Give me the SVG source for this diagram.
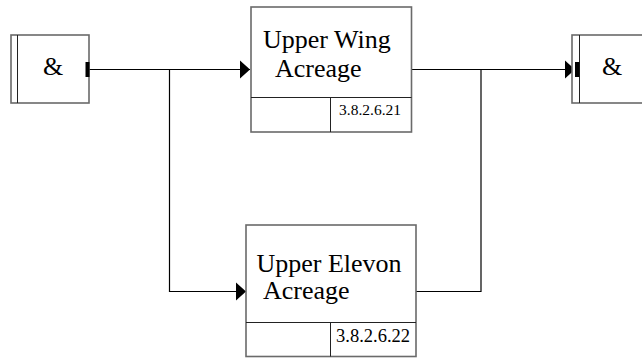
<svg xmlns="http://www.w3.org/2000/svg" width="642" height="360" viewBox="0 0 642 360">
<defs>
<style>
.box{fill:#fff;stroke:#6a6a6a;stroke-width:1.6}
.div{fill:none;stroke:#222;stroke-width:1}
.line{fill:none;stroke:#000;stroke-width:1.2}
.bar{fill:#000}
.t{font-family:"Liberation Serif","Times New Roman",serif;fill:#000}
.lbl{font-size:26px}
.amp{font-size:26px}
</style>
<marker id="arr" markerWidth="11" markerHeight="20" refX="10" refY="10" orient="auto" markerUnits="userSpaceOnUse">
<path d="M0,1 L10,10 L0,19 Z" fill="#000"/>
</marker>
</defs>
<g id="connectors">
<path class="line" d="M89,69.5 H250" marker-end="url(#arr)"/>
<path class="line" d="M169.5,69.5 V291.5 H246" marker-end="url(#arr)"/>
<path class="line" d="M411,69.5 H575" marker-end="url(#arr)"/>
<path class="line" d="M416,291.5 H481 V69.5"/>
</g>
<g id="junction-left">
<rect class="box" x="11" y="35" width="78" height="68"/>
<line class="div" x1="17.5" y1="35" x2="17.5" y2="103"/>
<rect class="bar" x="85.5" y="62" width="4" height="15"/>
<text class="t amp" x="53" y="75" text-anchor="middle">&amp;</text>
</g>
<g id="upper-wing">
<rect class="box" x="251" y="7" width="160.5" height="125"/>
<line class="div" x1="251" y1="97.5" x2="411.5" y2="97.5"/>
<line class="div" x1="330.5" y1="97.5" x2="330.5" y2="132"/>
<text class="t lbl" x="263" y="48">Upper Wing</text>
<text class="t lbl" x="275" y="77">Acreage</text>
<text class="t" x="339" y="115" font-size="15.5">3.8.2.6.21</text>
</g>
<g id="upper-elevon">
<rect class="box" x="246" y="225" width="170" height="131.5"/>
<line class="div" x1="246" y1="322.5" x2="416" y2="322.5"/>
<line class="div" x1="330.5" y1="322.5" x2="330.5" y2="356.5"/>
<text class="t lbl" x="256.5" y="271.5">Upper Elevon</text>
<text class="t lbl" x="263" y="299">Acreage</text>
<text class="t" x="336" y="341.5" font-size="18.5">3.8.2.6.22</text>
</g>
<g id="junction-right">
<rect class="box" x="572" y="35" width="80" height="68"/>
<line class="div" x1="579.5" y1="35" x2="579.5" y2="103"/>
<rect class="bar" x="575" y="62" width="4.5" height="15"/>
<text class="t amp" x="612" y="75" text-anchor="middle">&amp;</text>
</g>
</svg>
